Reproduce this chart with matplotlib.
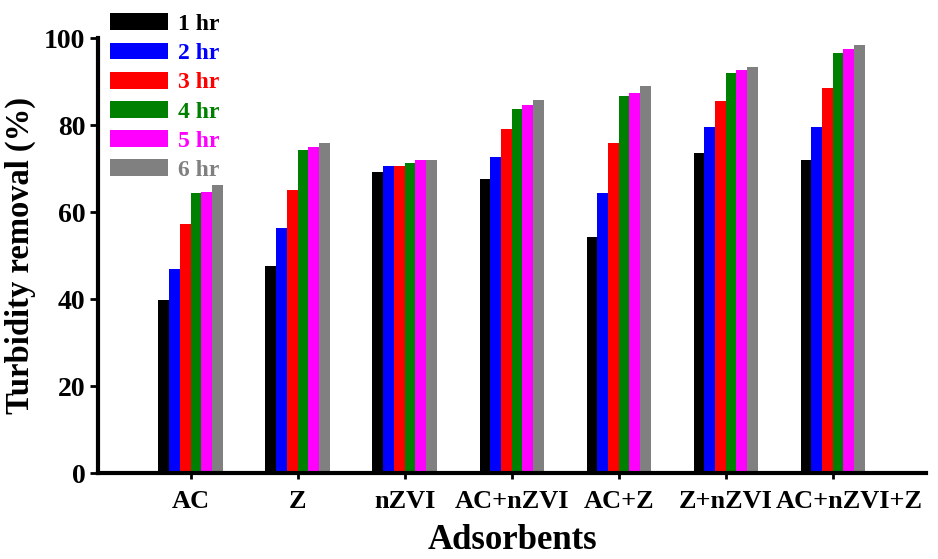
import numpy as np
import matplotlib.pyplot as plt
from matplotlib.patches import Patch
import matplotlib.transforms as mtransforms

plt.rcParams['font.family'] = ['Liberation Serif', 'DejaVu Serif']
plt.rcParams['font.weight'] = 'bold'

adsorbents = ['AC', 'Z', 'nZVI', 'AC+nZVI', 'AC+Z', 'Z+nZVI', 'AC+nZVI+Z']
hours = ['1 hr', '2 hr', '3 hr', '4 hr', '5 hr', '6 hr']
colors = ['black', 'blue', 'red', 'green', 'magenta', 'gray']

hr1 = [39.8, 47.7, 69.3, 67.7, 54.3, 73.6, 72.0]
hr2 = [46.9, 56.3, 70.6, 72.6, 64.3, 79.6, 79.6]
hr3 = [57.2, 65.1, 70.6, 79.2, 75.9, 85.5, 88.6]
hr4 = [64.3, 74.3, 71.3, 83.8, 86.7, 91.9, 96.6]
hr5 = [64.6, 75.0, 72.1, 84.7, 87.4, 92.6, 97.4]
hr6 = [66.2, 76.0, 72.1, 85.8, 89.0, 93.4, 98.5]
series = [hr1, hr2, hr3, hr4, hr5, hr6]

fig = plt.figure(figsize=(9.38, 5.59), dpi=100)
ax = fig.add_axes([0.105, 0.153, 0.882, 0.779])

x = np.arange(1, len(adsorbents) + 1)
w = 0.1
for i, vals in enumerate(series):
    ax.bar(x + (i - 2.5) * w, vals, width=w, color=colors[i], edgecolor='none')

ax.set_xlim(0.14, 7.87)
ax.set_ylim(0, 100)
ax.set_yticks([0, 20, 40, 60, 80, 100])
ax.set_xticks(x)
ax.set_xticklabels(adsorbents)
ax.tick_params(axis='both', labelsize=19, width=2)
ax.tick_params(axis='y', length=6, labelsize=20)
ax.tick_params(axis='x', length=4, pad=8)
# last label nudged right so it doesn't collide with its neighbour
lab = ax.get_xticklabels()[-1]
lab.set_transform(lab.get_transform() + mtransforms.ScaledTranslation(0.17, 0, fig.dpi_scale_trans))
for s in ['top', 'right']:
    ax.spines[s].set_visible(False)
for s in ['left', 'bottom']:
    ax.spines[s].set_linewidth(3)

ax.set_ylabel('Turbidity removal (%)', fontsize=23.5, fontweight='bold', labelpad=6)
ax.set_xlabel('Adsorbents', fontsize=25, fontweight='bold', labelpad=8)

handles = [Patch(facecolor=c, edgecolor='none') for c in colors]
leg = fig.legend(handles, hours, loc='upper left', bbox_to_anchor=(0.107, 0.993),
                 frameon=False, prop={'size': 17, 'weight': 'bold'},
                 handlelength=2.45, handleheight=0.72,
                 labelspacing=0.32, handletextpad=0.42, borderaxespad=0)
for t, c in zip(leg.get_texts(), colors):
    t.set_color(c)

fig.savefig('out.png', dpi=100)
